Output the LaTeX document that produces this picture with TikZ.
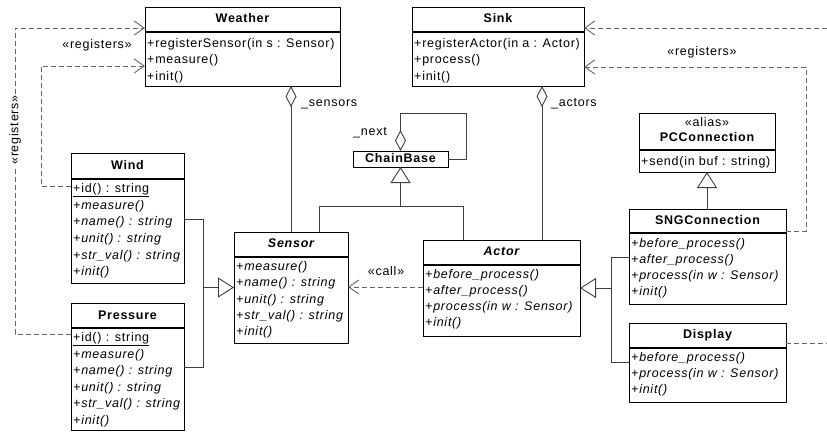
\documentclass[tikz,border=0pt]{standalone}
\usepackage{fontspec}
\setmainfont{Liberation Sans}[LetterSpace=6]
\usetikzlibrary{arrows.meta}
\newcommand\ClassBox[5]{\node[cls, minimum width={(#4)-(#2)}, minimum height={(#5)-(#3)}] (#1) at ({((#2)+(#4))/2},{((#3)+(#5))/2}) {};}
\newcommand\Hdr[2]{\draw[hdrline] (#1.west |- 0,#2) -- (#1.east |- 0,#2);}
\newcommand\Row[4]{\node[mem, xshift=2pt] (#1) at (#2.west |- 0,#3) {#4};}
\newcommand\Ttl[4]{\node[clsname] (#1) at (#2.north |- 0,#3) {#4};}
\begin{document}
\begin{tikzpicture}[x=1pt,y=-1pt,
  cls/.style={draw=black, line width=1pt, fill=white, inner sep=0pt, outer sep=0pt},
  hdrline/.style={draw=black, line width=1.4pt},
  clsname/.style={inner sep=0pt, text height=9.5pt, text depth=3pt, font=\fontsize{12.5}{15}\selectfont\bfseries},
  mem/.style={anchor=west, inner sep=0pt, text height=9.5pt, text depth=3pt, font=\fontsize{12.5}{15}\selectfont},
  lbl/.style={inner sep=0pt, text height=9.5pt, text depth=3pt, font=\fontsize{12.5}{15}\selectfont},
  con/.style={draw=black!75, line width=0.9pt},
  dep/.style={draw=black!60, line width=0.9pt, dash pattern=on 5pt off 3pt, -{Straight Barb[length=10pt,width=14pt]}},
  gen/.style={con, -{Triangle[open, length=16pt, width=20pt]}},
  agg/.style={con, -{Diamond[open, length=21pt, width=11pt]}},
]
\fill[white] (0,0) rectangle (827,432);
\useasboundingbox (0,0) rectangle (827,432);

% ---------- classes ----------
\ClassBox{weather}{145}{7}{340}{86}
\Hdr{weather}{32}
\Ttl{weatherT}{weather}{19.5}{Weather}
\Row{w1}{weather}{44}{+registerSensor(in s : Sensor)}
\Row{w2}{weather}{60.5}{+measure()}
\Row{w3}{weather}{77}{+init()}

\ClassBox{sink}{412}{7}{584}{86}
\Hdr{sink}{32}
\Ttl{sinkT}{sink}{19.5}{Sink}
\Row{s1}{sink}{44}{+registerActor(in a : Actor)}
\Row{s2}{sink}{60.5}{+process()}
\Row{s3}{sink}{77}{+init()}

\ClassBox{wind}{71}{153}{184}{283}
\Hdr{wind}{179}
\Ttl{windT}{wind}{166}{Wind}
\Row{wi1}{wind}{189}{\underline{+id() : string}}
\Row{wi2}{wind}{206}{\itshape +measure()}
\Row{wi3}{wind}{222}{\itshape +name() : string}
\Row{wi4}{wind}{239}{\itshape +unit() : string}
\Row{wi5}{wind}{256}{\itshape +str\_val() : string}
\Row{wi6}{wind}{272}{\itshape +init()}

\ClassBox{pressure}{71}{303}{184}{430}
\Hdr{pressure}{328}
\Ttl{pressureT}{pressure}{316}{Pressure}
\Row{p1}{pressure}{338}{\underline{+id() : string}}
\Row{p2}{pressure}{355}{\itshape +measure()}
\Row{p3}{pressure}{371}{\itshape +name() : string}
\Row{p4}{pressure}{388}{\itshape +unit() : string}
\Row{p5}{pressure}{404}{\itshape +str\_val() : string}
\Row{p6}{pressure}{421}{\itshape +init()}

\ClassBox{sensor}{234}{232}{348}{343}
\Hdr{sensor}{257}
\Ttl{sensorT}{sensor}{244}{\itshape Sensor}
\Row{se1}{sensor}{267}{\itshape +measure()}
\Row{se2}{sensor}{283}{\itshape +name() : string}
\Row{se3}{sensor}{300}{\itshape +unit() : string}
\Row{se4}{sensor}{316}{\itshape +str\_val() : string}
\Row{se5}{sensor}{332}{\itshape +init()}

\ClassBox{actor}{423}{240}{580}{336}
\Hdr{actor}{265}
\Ttl{actorT}{actor}{252.5}{\itshape Actor}
\Row{a1}{actor}{275}{\itshape +before\_process()}
\Row{a2}{actor}{291}{\itshape +after\_process()}
\Row{a3}{actor}{307}{\itshape +process(in w : Sensor)}
\Row{a4}{actor}{323}{\itshape +init()}

\ClassBox{sng}{629}{209}{786}{304}
\Hdr{sng}{233}
\Ttl{sngT}{sng}{221}{SNGConnection}
\Row{g1}{sng}{244}{\itshape +before\_process()}
\Row{g2}{sng}{260}{\itshape +after\_process()}
\Row{g3}{sng}{276}{\itshape +process(in w : Sensor)}
\Row{g4}{sng}{292}{\itshape +init()}

\ClassBox{display}{629}{323}{786}{402}
\Hdr{display}{348}
\Ttl{displayT}{display}{335}{Display}
\Row{d1}{display}{358}{\itshape +before\_process()}
\Row{d2}{display}{374}{\itshape +process(in w : Sensor)}
\Row{d3}{display}{390}{\itshape +init()}

\ClassBox{pcc}{639}{113}{775}{172}
\Hdr{pcc}{150}
\node[lbl] (pccS) at (pcc.north |- 0,123) {«alias»};
\Ttl{pccT}{pcc}{138}{PCConnection}
\Row{pc1}{pcc}{162}{+send(in buf : string)}

\ClassBox{chainbase}{353}{151}{448}{167}
\Ttl{chainbaseT}{chainbase}{159}{ChainBase}

% ---------- aggregations ----------
\draw[agg] (sensor.north) -- (sensor.north |- weather.south);
\node[lbl, anchor=west] (lsens) at (301,103) {\_sensors};

\coordinate (actTop) at ([xshift=-38pt]actor.north east);
\draw[agg] (actTop) -- (actTop |- sink.south);
\node[lbl, anchor=west] (lact) at (551,103) {\_actors};

\draw[agg] (chainbase.east) -| ++(18,-46) -| (chainbase.north);
\node[lbl] (lnext) at (370,132) {\_next};

% ---------- generalizations ----------
\coordinate (sgen) at ([xshift=-29pt]sensor.north east);
\coordinate (agen) at ([xshift=40pt]actor.north west);
\draw[con] (sgen) -- (sgen |- 0,206) -- (agen |- 0,206) -- (agen);
\draw[gen] (chainbase.south |- 0,206) -- (chainbase.south);

\coordinate (sj) at ([xshift=-31pt]sensor.west);
\draw[gen] (sj) -- (sensor.west);
\draw[con] (wind.east |- 0,219) -| (sj);
\draw[con] (pressure.east |- 0,367) -| (sj);

\coordinate (aj) at ([xshift=31pt]actor.east);
\draw[gen] (aj) -- (actor.east);
\draw[con] (sng.west |- 0,257) -| (aj);
\draw[con] (display.west |- 0,362) -| (aj);

\draw[gen] (sng.north -| pcc.south) -- (pcc.south);

% ---------- dependencies ----------
\draw[dep] (actor.west |- 0,287) -- (sensor.east |- 0,287);
\node[lbl] (lcall) at (386,272) {«call»};

\draw[dep] (pressure.west |- 0,334) -| (15,28) -- (weather.west |- 0,28);
\draw[dep] (wind.west |- 0,186) -| (41,66) -- (weather.west |- 0,66);
\node[lbl] (lreg1) at (97,45) {«registers»};
\node[lbl, fill=white, inner sep=1pt, rotate=90] (lreg2) at (15,130) {«registers»};

\coordinate (rEdge) at (827,28);
\draw[dep] (rEdge) -- (sink.east |- 0,28);
\draw[dep] (sng.east |- 0,231) -| (806,67) -- (sink.east |- 0,67);
\node[lbl] (lreg3) at (702,52) {«registers»};

\coordinate (dEdge) at (827,343);
\draw[draw=black!60, line width=0.9pt, dash pattern=on 5pt off 3pt] (display.east |- 0,343) -- (dEdge);
\end{tikzpicture}
\end{document}
